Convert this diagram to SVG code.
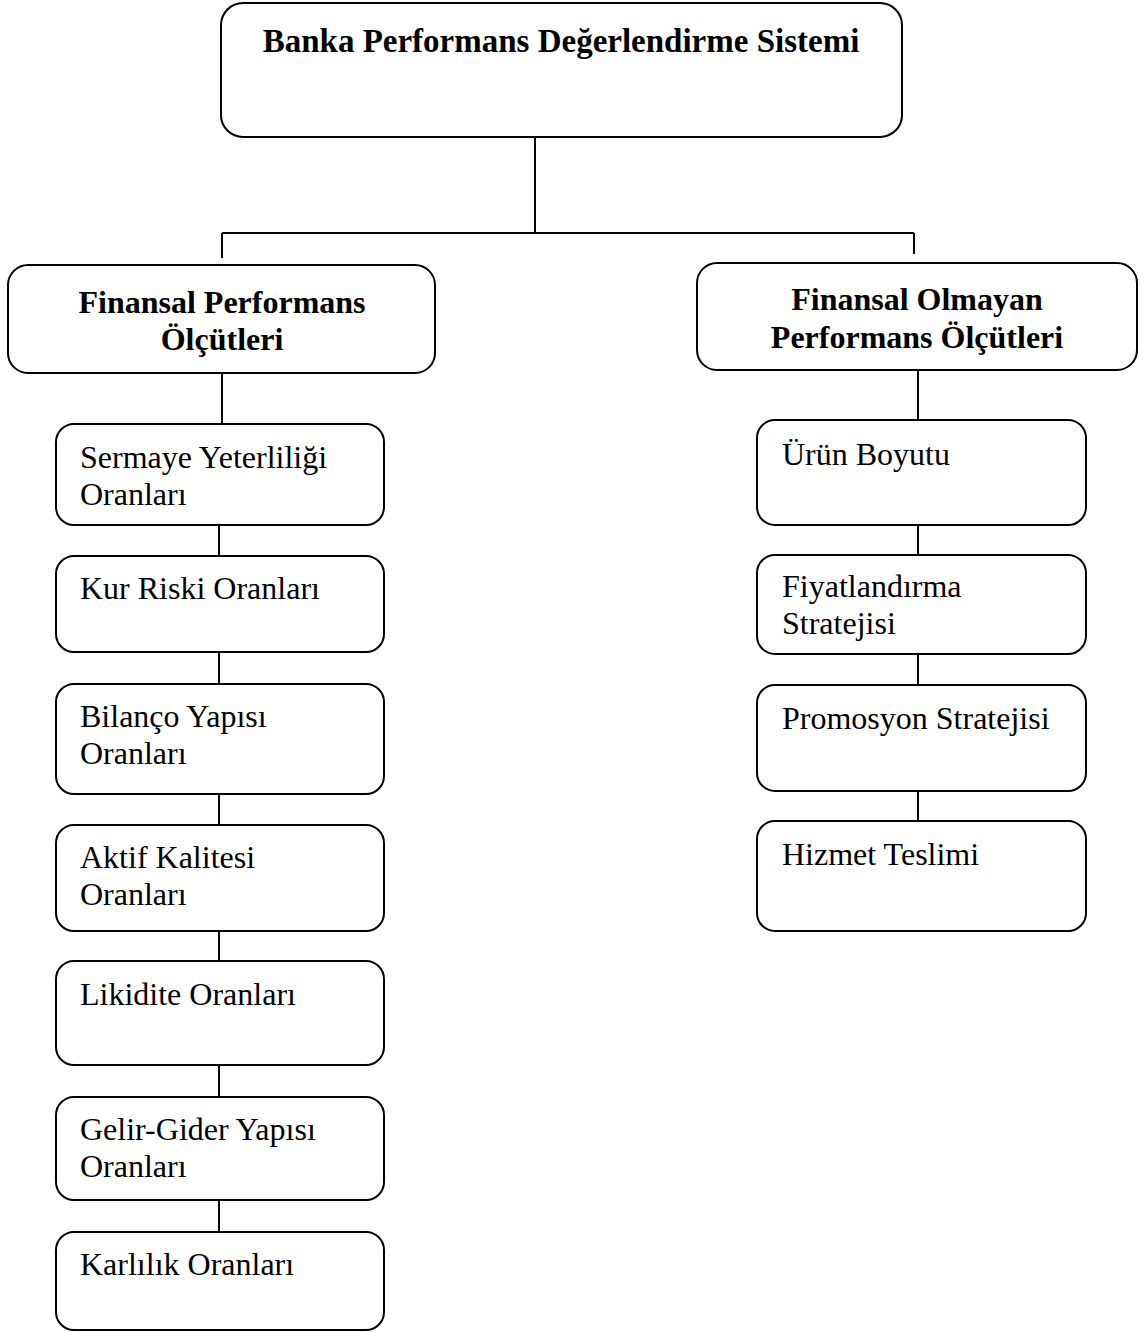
<svg xmlns="http://www.w3.org/2000/svg" width="1145" height="1332" viewBox="0 0 1145 1332">
<style>
.box{fill:#fff;stroke:#000;stroke-width:2}
.ln{stroke:#000;stroke-width:2;fill:none}
.b{font-family:"Liberation Serif","Times New Roman",serif;font-weight:bold;font-size:33px;fill:#000}
.h{font-family:"Liberation Serif","Times New Roman",serif;font-weight:bold;font-size:32px;fill:#000;text-anchor:middle}
.t{font-family:"Liberation Serif","Times New Roman",serif;font-size:32px;fill:#000}
</style>
<rect width="1145" height="1332" fill="#fff"/>
<g id="connectors">
<path class="ln" d="M535 137V233M222 233H914M222 233V258M914 233V254"/>
<path class="ln" d="M222 373V424M219 525V556M219 652V684M219 794V825M219 931V961M219 1065V1097M219 1200V1232"/>
<path class="ln" d="M918 370V420M918 525V555M918 654V685M918 791V821"/>
</g>
<g id="root"><rect class="box" x="221" y="3" width="681" height="134" rx="22"/><text class="b" x="561" y="52" text-anchor="middle">Banka Performans Değerlendirme Sistemi</text></g>
<g id="fin"><rect class="box" x="8" y="265" width="427" height="108" rx="20"/><text class="h" x="222" y="313">Finansal Performans</text><text class="h" x="222" y="350">Ölçütleri</text></g>
<g id="nonfin"><rect class="box" x="697" y="263" width="440" height="107" rx="20"/><text class="h" x="917" y="310">Finansal Olmayan</text><text class="h" x="917" y="348">Performans Ölçütleri</text></g>
<g id="l1"><rect class="box" x="56" y="424" width="328" height="101" rx="18"/><text class="t" x="80" y="468">Sermaye Yeterliliği</text><text class="t" x="80" y="505">Oranları</text></g>
<g id="l2"><rect class="box" x="56" y="556" width="328" height="96" rx="18"/><text class="t" x="80" y="599">Kur Riski Oranları</text></g>
<g id="l3"><rect class="box" x="56" y="684" width="328" height="110" rx="18"/><text class="t" x="80" y="727">Bilanço Yapısı</text><text class="t" x="80" y="764">Oranları</text></g>
<g id="l4"><rect class="box" x="56" y="825" width="328" height="106" rx="18"/><text class="t" x="80" y="868">Aktif Kalitesi</text><text class="t" x="80" y="905">Oranları</text></g>
<g id="l5"><rect class="box" x="56" y="961" width="328" height="104" rx="18"/><text class="t" x="80" y="1005">Likidite Oranları</text></g>
<g id="l6"><rect class="box" x="56" y="1097" width="328" height="103" rx="18"/><text class="t" x="80" y="1140">Gelir-Gider Yapısı</text><text class="t" x="80" y="1177">Oranları</text></g>
<g id="l7"><rect class="box" x="56" y="1232" width="328" height="98" rx="18"/><text class="t" x="80" y="1275">Karlılık Oranları</text></g>
<g id="r1"><rect class="box" x="757" y="420" width="329" height="105" rx="18"/><text class="t" x="782" y="465">Ürün Boyutu</text></g>
<g id="r2"><rect class="box" x="757" y="555" width="329" height="99" rx="18"/><text class="t" x="782" y="597">Fiyatlandırma</text><text class="t" x="782" y="634">Stratejisi</text></g>
<g id="r3"><rect class="box" x="757" y="685" width="329" height="106" rx="18"/><text class="t" x="782" y="729">Promosyon Stratejisi</text></g>
<g id="r4"><rect class="box" x="757" y="821" width="329" height="110" rx="18"/><text class="t" x="782" y="865">Hizmet Teslimi</text></g>
</svg>
